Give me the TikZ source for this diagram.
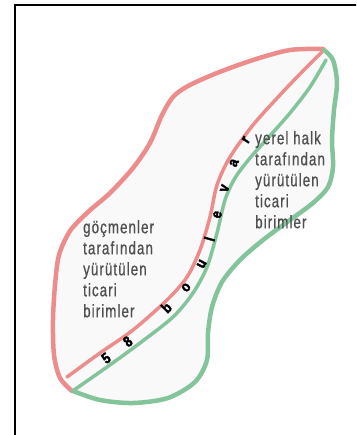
\documentclass[tikz,border=0pt]{standalone}
\usepackage{fontspec}
\setmainfont{Liberation Sans}
\newfontfamily\labelfont[FakeStretch=0.74,LetterSpace=6,FakeBold=0.8]{Liberation Sans}
\newfontfamily\roadfont[FakeStretch=0.85,FakeBold=2.5]{Liberation Sans}
\usepackage{xcolor}
\usepackage{tikz}
\usetikzlibrary{decorations.text}

\definecolor{migrantred}{HTML}{EC8C8C}
\definecolor{localgreen}{HTML}{84C49A}
\definecolor{labelgray}{HTML}{505050}
\definecolor{blobfill}{HTML}{F9F9F9}

\begin{document}
\begin{tikzpicture}[x=1pt, y=-1pt,
    outerred/.style={draw=migrantred, line width=4.5pt, line cap=round, line join=round},
    outergreen/.style={draw=localgreen, line width=4.5pt, line cap=round, line join=round},
    innerred/.style={draw=migrantred, line width=3.5pt, line cap=round},
    innergreen/.style={draw=localgreen, line width=3.5pt, line cap=round},
    arealabel/.style={anchor=north west, inner sep=0pt, align=left, text=labelgray,
        font=\labelfont\fontsize{18}{21}\selectfont}]
    \useasboundingbox (0,0) rectangle (356,435);

    % Frame
    \begin{scope}
        \clip (0,0) rectangle (356,435);
        \draw[line width=1.8pt] (15,5) rectangle (372,452);
    \end{scope}

    % Area fill
    \fill[blobfill] plot[smooth] coordinates {(72,391) (60,378) (54,355) (53,320) (55,285) (59,255) (70,231) (88,212) (110,193) (133,168) (150,143) (162,115) (173,97) (188,86) (217,73) (253,60) (290,50) (323,49)}
        -- plot[smooth] coordinates {(324,50) (333,60) (337,83) (334,110) (332,140) (333,167) (328,187) (313,203) (290,220) (263,240) (240,260) (222,282) (212,307) (208,333) (207,360) (195,382) (168,398) (133,403) (100,400) (73,391)} -- cycle;

    % Outer borders
    \draw[outerred] plot[smooth] coordinates {(72,391) (60,378) (54,355) (53,320) (55,285) (59,255) (70,231) (88,212) (110,193) (133,168) (150,143) (162,115) (173,97) (188,86) (217,73) (253,60) (290,50) (323,49)};
    \draw[outergreen] plot[smooth] coordinates {(324,50) (333,60) (337,83) (334,110) (332,140) (333,167) (328,187) (313,203) (290,220) (263,240) (240,260) (222,282) (212,307) (208,333) (207,360) (195,382) (168,398) (133,403) (100,400) (73,391)};

    % Boulevard edges
    \draw[innerred] plot[smooth] coordinates {(67,377) (100,353) (133,330) (167,300) (187,277) (200,250) (210,217) (217,185) (230,157) (253,125) (280,95) (300,74) (322,52)};
    \draw[innergreen] plot[smooth] coordinates {(74,390) (107,367) (140,343) (173,317) (193,293) (207,267) (217,233) (225,200) (235,178) (250,158) (268,138) (290,113) (310,87) (326,60)};

    % Boulevard name
    \coordinate (roadstart) at (103,360);
    \coordinate (roadmid) at (203,258);
    \coordinate (roadend) at (246,137);
    \path[decorate, decoration={text along path, text align={fit to path}, raise=-5.5pt,
        text={|\roadfont\bfseries\fontsize{15}{15}\selectfont|58 boulevar}}]
        (roadstart) .. controls (150,325) and (185,295) .. (roadmid)
        .. controls (216,226) and (220,176) .. (roadend);

    % Labels
    \node[arealabel] (migrants) at (83,220) {göçmenler\\tarafından\\yürütülen\\ticari\\birimler};
    \node[arealabel] (locals) at (255,131) {yerel halk\\tarafından\\yürütülen\\ticari\\birimler};
\end{tikzpicture}
\end{document}
